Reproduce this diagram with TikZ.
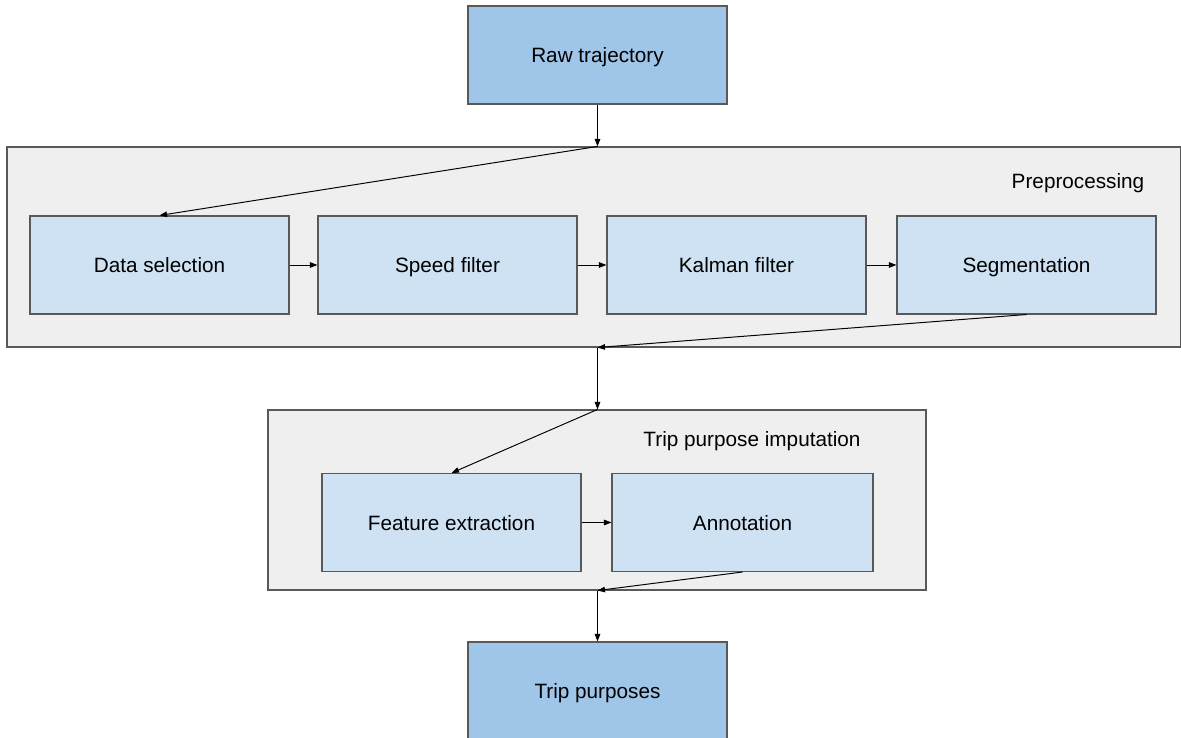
\documentclass[tikz,border=0pt]{standalone}
\usepackage{fontspec}
\setmainfont{Liberation Sans}
\usetikzlibrary{arrows.meta,positioning}
\definecolor{tpdark}{HTML}{9FC5E8}
\definecolor{tplight}{HTML}{CFE2F3}
\definecolor{tpgroup}{HTML}{EFEFEF}
\definecolor{tpedge}{HTML}{595959}

\tikzset{
  stagebox/.style={draw=tpedge, line width=0.6pt, rectangle, fill=tplight, minimum width=5.18cm, minimum height=1.96cm},
  endbox/.style={draw=tpedge, line width=0.6pt, rectangle, fill=tpdark, minimum width=5.18cm, minimum height=1.96cm},
  groupbox/.style={draw=tpedge, line width=0.6pt, rectangle, fill=tpgroup},
  flow/.style={-{Triangle[length=1.5mm,width=1.1mm]}, line width=0.55pt, black}
}

\begin{document}
\begin{tikzpicture}[every node/.style={font=\fontsize{11.8}{14}\selectfont, text height=1.85ex, text depth=0.15ex}]
  \useasboundingbox (0,0) rectangle (23.62,14.76);

  % Input
  \node[endbox] (raw) at (11.95,13.66) {Raw trajectory};

  % Preprocessing group
  \node[groupbox, minimum width=23.48cm, minimum height=4cm] (pre) at (11.88,9.82) {};
  \node (prelabel) at (21.56,11.14) {Preprocessing};
  \node[stagebox] (sel) at (3.19,9.46) {Data selection};
  \node[stagebox] (speed) at (8.95,9.46) {Speed filter};
  \node[stagebox] (kalman) at (14.73,9.46) {Kalman filter};
  \node[stagebox] (seg) at (20.53,9.46) {Segmentation};

  % Trip purpose group
  \node[groupbox, minimum width=13.16cm, minimum height=3.6cm] (imp) at (11.94,4.76) {};
  \node (implabel) at (15.04,5.98) {Trip purpose imputation};
  \node[stagebox] (feat) at (9.03,4.31) {Feature extraction};
  \node[stagebox, minimum width=5.22cm] (annot) at (14.85,4.31) {Annotation};

  % Output
  \node[endbox] (purp) at (11.95,0.94) {Trip purposes};

  % Junctions on the group borders
  \coordinate (j1) at (raw.south |- pre.north);
  \coordinate (j2) at (raw.south |- pre.south);
  \coordinate (j3) at (raw.south |- imp.north);
  \coordinate (j4) at (raw.south |- imp.south);

  \draw[flow] (raw) -- (j1);
  \draw[flow] (j1) -- (sel.north);
  \draw[flow] (sel) -- (speed);
  \draw[flow] (speed) -- (kalman);
  \draw[flow] (kalman) -- (seg);
  \draw[flow] (seg.south) -- (j2);
  \draw[flow] (j2) -- (j3);
  \draw[flow] (j3) -- (feat.north);
  \draw[flow] (feat) -- (annot);
  \draw[flow] (annot.south) -- (j4);
  \draw[flow] (j4) -- (purp);
\end{tikzpicture}
\end{document}
